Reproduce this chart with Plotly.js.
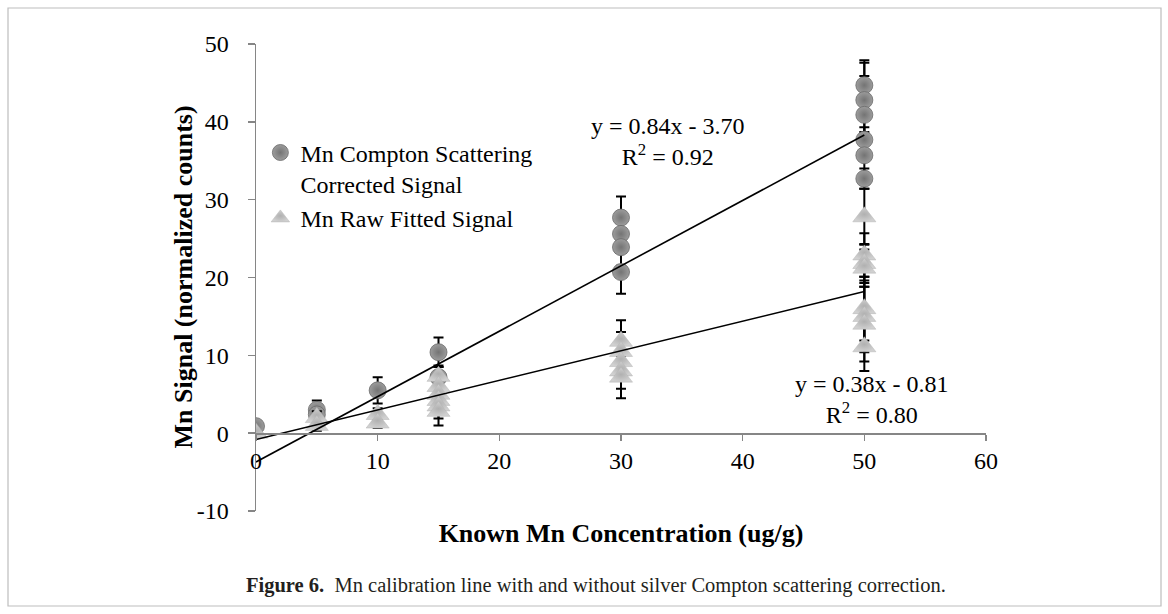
<!DOCTYPE html>
<html>
<head>
<meta charset="utf-8">
<script src="https://cdn.plot.ly/plotly-3.0.1.min.js"></script>
<style>
  html, body { margin: 0; padding: 0; background: #ffffff; }
  #chart { width: 1168px; height: 614px; }
</style>
</head>
<body>
<div id="chart"></div>
<script>
// ---- Data ----
const comptonX   = [0,   5,   5,   10,  15,   15,  30,   30,   30,   30,   50,   50,   50,   50,   50,   50];
const comptonY   = [0.9, 3.0, 2.4, 5.5, 10.4, 7.2, 27.7, 25.6, 23.9, 20.7, 44.7, 42.8, 40.9, 37.7, 35.7, 32.7];
const comptonErr = [0.5, 1.2, 0.7, 1.7, 1.9,  1.5, 2.7,  2.2,  2.4,  2.8,  3.2,  4.8,  5.0,  1.6,  3.0,  1.3];

const rawX   = [0,   5,   5,   10,  10,  15,  15,  15,  15,  15,  15,  30,   30,   30,  30,  30,  50,   50,   50,   50,   50,   50,   50,   50];
const rawY   = [0.0, 2.0, 1.0, 2.4, 1.3, 7.3, 6.0, 5.0, 4.2, 3.5, 2.8, 11.8, 10.5, 9.2, 8.0, 7.2, 27.8, 22.9, 21.8, 21.2, 16.0, 15.0, 14.0, 11.1];
const rawErr = [0.3, 0.8, 0.7, 0.8, 0.6, 1.2, 1.0, 1.3, 1.5, 1.6, 1.8, 2.7,  2.5,  2.2, 2.3, 2.7, 3.6,  2.8,  2.5,  2.4,  4.1,  4.6,  4.8,  3.1];

const seriesNames = ["Mn Compton Scattering<br>Corrected Signal", "Mn Raw Fitted Signal"];

// Linear trendlines (slope, intercept, R²) as printed on the chart
const trendSlope     = [0.84, 0.38];
const trendIntercept = [-3.70, -0.81];
const trendR2        = ["0.92", "0.80"];
const trendXRange    = [0, 50];

const xTicks = [0, 10, 20, 30, 40, 50, 60];
const yTicks = [-10, 0, 10, 20, 30, 40, 50];

const xTitle  = "Known Mn Concentration (ug/g)";
const yTitle  = "Mn Signal (normalized counts)";
const caption = "<b>Figure 6.</b>  Mn calibration line with and without silver Compton scattering correction.";

// ---- Plot ----
const serif = "Liberation Serif, Times New Roman, serif";
const errStyle = (arr) => ({type: "data", array: arr, visible: true, color: "#000000", thickness: 2, width: 5});

const traces = [
  {
    x: comptonX, y: comptonY, name: seriesNames[0], type: "scatter", mode: "markers",
    error_y: errStyle(comptonErr),
    marker: {symbol: "circle", size: 17, color: "#9c9c9c",
             gradient: {type: "radial", color: "#747474"},
             line: {color: "#6a6a6a", width: 0.8}}
  },
  {
    x: rawX, y: rawY, name: seriesNames[1], type: "scatter", mode: "markers",
    error_y: errStyle(rawErr),
    marker: {symbol: "triangle-up", size: 20, color: "#d0d0d0",
             gradient: {type: "radial", color: "#b0b0b0"},
             line: {color: "#b4b4b4", width: 0.5}}
  }
];

for (let i = 0; i < trendSlope.length; i++) {
  traces.push({
    x: trendXRange,
    y: trendXRange.map(v => trendSlope[i] * v + trendIntercept[i]),
    type: "scatter", mode: "lines", showlegend: false, hoverinfo: "skip",
    line: {color: "#000000", width: 1.6}
  });
}

function eqText(i) {
  const b = trendIntercept[i];
  const sign = b < 0 ? " - " : " + ";
  return "y = " + trendSlope[i].toFixed(2) + "x" + sign + Math.abs(b).toFixed(2) +
         "<br>R<sup>2</sup> = " + trendR2[i];
}

const layout = {
  width: 1168, height: 614,
  margin: {l: 256, r: 182, t: 44, b: 103},
  paper_bgcolor: "#ffffff", plot_bgcolor: "rgba(0,0,0,0)",
  font: {family: serif, size: 24, color: "#000000"},
  showlegend: true,
  legend: {
    x: 0.006, y: 0.815, xanchor: "left", yanchor: "top", valign: "top",
    bgcolor: "rgba(0,0,0,0)", borderwidth: 0,
    font: {family: serif, size: 24, color: "#000000"},
    itemwidth: 30, tracegroupgap: 0
  },
  xaxis: {
    range: [0, 60], tickvals: xTicks, ticktext: xTicks.map(String),
    anchor: "free", position: 10 / 60,
    showline: true, linecolor: "#868686", linewidth: 1.5,
    ticks: "outside", ticklen: 6, tickcolor: "#868686", tickwidth: 1.5,
    showgrid: false, zeroline: false,
    tickfont: {family: serif, size: 24},
    title: {text: "<b>" + xTitle + "</b>", font: {family: serif, size: 26}, standoff: 50}
  },
  yaxis: {
    range: [-10, 50], tickvals: yTicks, ticktext: yTicks.map(String),
    showline: true, linecolor: "#868686", linewidth: 1.5,
    ticks: "outside", ticklen: 7, tickcolor: "#868686", tickwidth: 1.5,
    showgrid: false, zeroline: false, ticklabelstandoff: 14,
    tickfont: {family: serif, size: 24}
  },
  annotations: [
    {xref: "paper", yref: "paper", x: (183 - 256) / 730, y: 0.5, xanchor: "center", yanchor: "middle",
     textangle: -90, text: "<b>" + yTitle + "</b>", showarrow: false,
     font: {family: serif, size: 26}},
    {xref: "paper", yref: "paper", x: 0.564, y: 0.792, xanchor: "center", yanchor: "middle",
     text: eqText(0), showarrow: false, align: "center", font: {family: serif, size: 24}},
    {xref: "paper", yref: "paper", x: 0.844, y: 0.238, xanchor: "center", yanchor: "middle",
     text: eqText(1), showarrow: false, align: "center", font: {family: serif, size: 24}},
    {xref: "paper", yref: "paper", x: (244 - 256) / 730, y: (511 - 585) / 467, xanchor: "left", yanchor: "middle",
     text: caption, showarrow: false, align: "left", font: {family: serif, size: 20.5, color: "#231f20"}}
  ],
  shapes: [
    {type: "rect", xref: "paper", yref: "paper",
     x0: (8 - 256) / 730, x1: (1161 - 256) / 730, y0: (511 - 606) / 467, y1: (511 - 8) / 467,
     line: {color: "#bdbdbd", width: 1.2}, fillcolor: "rgba(0,0,0,0)", layer: "below"}
  ]
};

Plotly.newPlot("chart", traces, layout, {displayModeBar: false, staticPlot: true});
</script>
</body>
</html>
